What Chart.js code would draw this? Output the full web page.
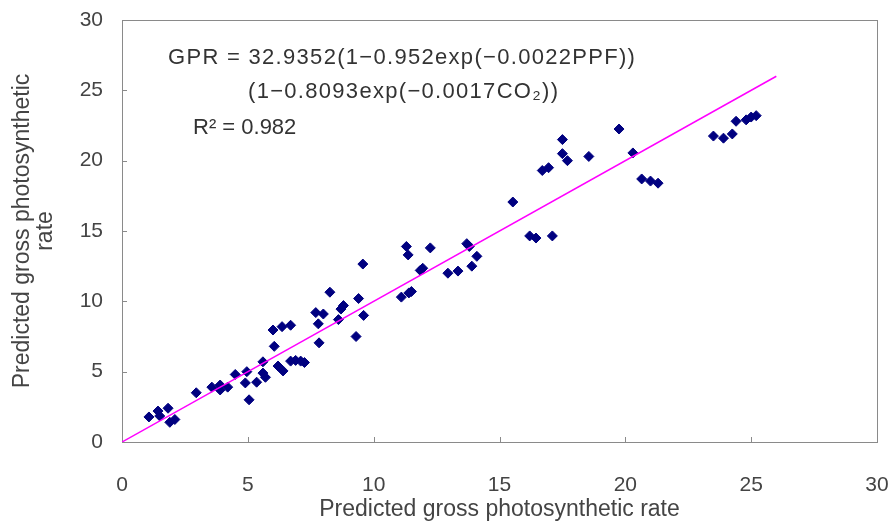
<!DOCTYPE html>
<html>
<head>
<meta charset="utf-8">
<script src="https://cdn.jsdelivr.net/npm/chart.js@4.4.1/dist/chart.umd.min.js"></script>
<style>
  body { margin: 0; background: #fff; }
  #wrap { width: 890px; height: 527px; position: relative; }
</style>
</head>
<body>
<div id="wrap"><canvas id="myChart"></canvas></div>
<script>
// data
const observedX = [1.07, 1.43, 1.5, 1.83, 1.9, 2.1, 2.95, 3.57, 3.9, 3.9, 4.2, 4.5, 4.96, 4.9, 5.05, 5.35, 5.6, 5.6, 5.7, 6.05,
    6.0, 6.2, 6.4, 6.7, 6.9, 7.1, 7.25, 7.83, 6.36, 6.7, 7.8, 7.7, 8.0, 8.26, 8.6, 8.7, 8.8, 9.4, 9.3, 9.6,
    9.57, 11.1, 11.4, 11.5, 11.3, 11.37, 11.85, 11.95, 12.25, 12.95, 13.35, 13.7, 13.8, 14.1, 13.9, 15.53, 16.2, 16.45, 17.1, 16.7,
    16.95, 17.5, 17.5, 17.7, 18.55, 19.75, 20.3, 20.65, 21.0, 21.3, 23.5, 23.9, 24.25, 24.4, 24.8, 25.0, 25.2];
const predictedY = [1.78, 2.2, 1.85, 2.4, 1.4, 1.6, 3.5, 3.9, 4.05, 3.7, 3.9, 4.8, 5.0, 4.2, 3.0, 4.25, 5.7, 4.9, 4.6, 6.8,
    7.96, 5.4, 5.05, 5.75, 5.8, 5.75, 5.65, 7.05, 8.2, 8.3, 8.4, 9.2, 9.1, 10.65, 8.7, 9.45, 9.7, 10.2, 7.5, 9.0,
    12.65, 10.3, 10.6, 10.7, 13.9, 13.3, 12.2, 12.35, 13.8, 12.0, 12.15, 14.1, 13.9, 13.2, 12.5, 17.06, 14.65, 14.5, 14.65, 19.3,
    19.5, 21.5, 20.5, 20.0, 20.3, 22.25, 20.55, 18.7, 18.55, 18.4, 21.75, 21.6, 21.9, 22.8, 22.9, 23.1, 23.2];
const lineX = [0, 26];
const lineY = [0, 26];
const tickValues = [0, 5, 10, 15, 20, 25, 30];

const fontFamily = '"Liberation Sans", Arial, sans-serif';

// kotak area plot, tick ke dalam, dan teks persamaan
const framePlugin = {
    id: 'frame',
    beforeDatasetsDraw(chart) {
        const { ctx, chartArea: a, scales: { x, y } } = chart;
        ctx.save();
        ctx.strokeStyle = '#8a8a8a';
        ctx.lineWidth = 1;
        ctx.strokeRect(Math.round(a.left) + 0.5, Math.round(a.top) + 0.5, Math.round(a.width), Math.round(a.height));
        ctx.beginPath();
        tickValues.forEach(v => {
            const px = Math.round(x.getPixelForValue(v)) + 0.5;
            ctx.moveTo(px, a.bottom);
            ctx.lineTo(px, a.bottom - 5);
            const py = Math.round(y.getPixelForValue(v)) + 0.5;
            ctx.moveTo(a.left, py);
            ctx.lineTo(a.left + 5, py);
        });
        ctx.stroke();

        ctx.fillStyle = '#333';
        ctx.font = '22px ' + fontFamily;
        ctx.textAlign = 'left';
        ctx.textBaseline = 'middle';
        ctx.letterSpacing = '1.3px';
        ctx.fillText('GPR = 32.9352(1\u22120.952exp(\u22120.0022PPF))', 168, 58);
        ctx.fillText('(1\u22120.8093exp(\u22120.0017CO\u2082))', 248, 92);
        ctx.letterSpacing = '0px';
        ctx.fillText('R\u00b2 = 0.982', 193, 128);
        ctx.restore();
    }
};

const ctx = document.getElementById('myChart').getContext('2d');
const myChart = new Chart(ctx, {
    type: 'scatter',
    data: {
        datasets: [{
            label: 'points',
            data: observedX.map((v, i) => ({ x: v, y: predictedY[i] })),
            backgroundColor: '#000080',
            borderColor: '#000080',
            pointStyle: 'rectRot',
            pointRadius: 5,
            borderWidth: 1,
            order: 2
        }, {
            label: 'line',
            data: lineX.map((v, i) => ({ x: v, y: lineY[i] })),
            showLine: true,
            borderColor: '#ff00ff',
            borderWidth: 1.5,
            pointRadius: 0,
            order: 1
        }]
    },
    options: {
        responsive: true,
        maintainAspectRatio: false,
        animation: false,
        layout: { padding: { left: 0, top: 20, right: 13, bottom: 0 } },
        plugins: {
            legend: { display: false },
            tooltip: { enabled: false }
        },
        scales: {
            x: {
                type: 'linear',
                min: 0,
                max: 30,
                afterFit: s => { s.height = 85; s.paddingLeft = 0; s.paddingRight = 0; },
                grid: { display: false },
                border: { display: false },
                ticks: { stepSize: 5, color: '#444', font: { size: 21, family: fontFamily }, padding: 23, maxRotation: 0 },
                title: {
                    display: true,
                    text: 'Predicted gross photosynthetic rate',
                    color: '#444',
                    font: { size: 23, family: fontFamily },
                    padding: { top: 0, bottom: 4 }
                }
            },
            y: {
                type: 'linear',
                min: 0,
                max: 30,
                afterFit: s => { s.width = 122; s.paddingTop = 0; s.paddingBottom = 0; },
                grid: { display: false },
                border: { display: false },
                ticks: { stepSize: 5, color: '#444', font: { size: 21, family: fontFamily }, padding: 11 },
                title: {
                    display: true,
                    text: ['Predicted gross photosynthetic', 'rate'],
                    color: '#444',
                    font: { size: 23, family: fontFamily, lineHeight: 1.0 },
                    padding: { top: 11, bottom: 0 }
                }
            }
        }
    },
    plugins: [framePlugin]
});
</script>
</body>
</html>
